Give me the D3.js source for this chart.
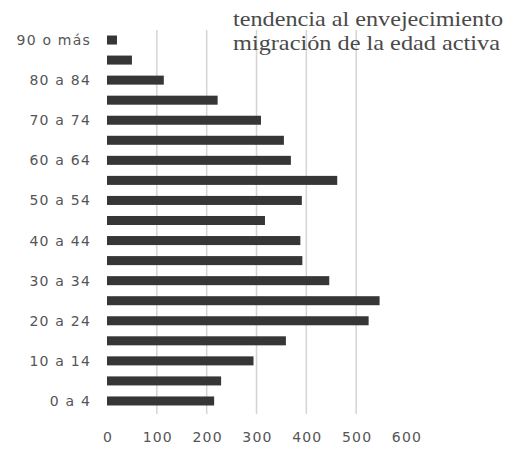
<!DOCTYPE html>
<html>
<head>
<meta charset="utf-8">
<script src="https://cdn.jsdelivr.net/npm/d3@7"></script>
<style>
  body { margin: 0; background: #fff; }
  .ylab, .xlab { font-family: "DejaVu Sans", sans-serif; font-size: 14px; fill: #555; letter-spacing: 1.2px; }
</style>
</head>
<body>
<svg id="chart" width="515" height="453"></svg>
<script>
const groups = ["0 a 4", "5 a 9", "10 a 14", "15 a 19", "20 a 24", "25 a 29", "30 a 34", "35 a 39",
                "40 a 44", "45 a 49", "50 a 54", "55 a 59", "60 a 64", "65 a 69", "70 a 74", "75 a 79",
                "80 a 84", "85 a 89", "90 o más"];
const values = [215, 229, 294, 359, 525, 547, 446, 392, 388, 317, 391, 462, 369, 355, 309, 222, 114, 50, 20];
const shownLabels = ["0 a 4", "10 a 14", "20 a 24", "30 a 34", "40 a 44", "50 a 54", "60 a 64", "70 a 74", "80 a 84", "90 o más"];
const xTicks = [0, 100, 200, 300, 400, 500, 600];
const gridTicks = [100, 200, 300, 400, 500];
const titleLines = ["tendencia al envejecimiento", "migración de la edad activa"];

const svg = d3.select("#chart");

const x = d3.scaleLinear()
    .domain([0, 600])
    .range([107, 406]);

const y = d3.scaleBand()
    .domain(groups)
    .range([411, 30])
    .paddingInner(0.55)
    .paddingOuter(0.275);

// grid
svg.append("g")
    .selectAll("line")
    .data(gridTicks)
    .enter()
    .append("line")
    .attr("x1", d => x(d))
    .attr("x2", d => x(d))
    .attr("y1", 30)
    .attr("y2", 414)
    .attr("stroke", "#d4d4d4")
    .attr("stroke-width", 1.5);

// bars
svg.append("g")
    .selectAll("rect")
    .data(groups)
    .enter()
    .append("rect")
    .attr("x", x(0))
    .attr("y", d => y(d))
    .attr("width", (d, i) => x(values[i]) - x(0))
    .attr("height", y.bandwidth())
    .attr("fill", "#363636");

// y labels
svg.append("g")
    .selectAll("text")
    .data(shownLabels)
    .enter()
    .append("text")
    .attr("class", "ylab")
    .attr("x", 91)
    .attr("y", d => y(d) + y.bandwidth() / 2)
    .attr("dy", "0.36em")
    .attr("text-anchor", "end")
    .text(d => d);

// x labels
svg.append("g")
    .selectAll("text")
    .data(xTicks)
    .enter()
    .append("text")
    .attr("class", "xlab")
    .attr("x", d => x(d) + 1)
    .attr("y", 442)
    .attr("text-anchor", "middle")
    .text(d => d);

// title
svg.append("g")
    .selectAll("text")
    .data(titleLines)
    .enter()
    .append("text")
    .attr("x", 233)
    .attr("y", (d, i) => 26 + i * 24)
    .attr("font-family", "'Liberation Serif', 'DejaVu Serif', serif")
    .attr("font-size", 21)
    .attr("fill", "#4a4a4a")
    .attr("textLength", (d, i) => i === 0 ? 270 : 267)
    .attr("lengthAdjust", "spacingAndGlyphs")
    .text(d => d);
</script>
</body>
</html>
